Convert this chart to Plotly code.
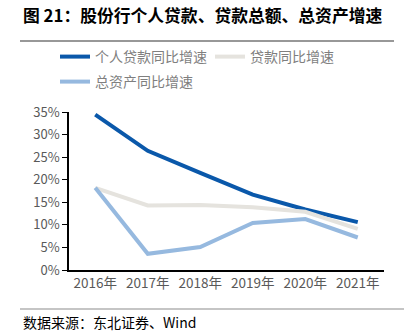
import plotly.graph_objects as go

years = ["2016年", "2017年", "2018年", "2019年", "2020年", "2021年"]
personal_loans = [34.4, 26.4, 21.5, 16.7, 13.4, 10.6]
total_loans = [18.2, 14.3, 14.4, 13.9, 12.9, 9.1]
total_assets = [18.2, 3.6, 5.1, 10.4, 11.3, 7.2]
y_ticks = [0, 5, 10, 15, 20, 25, 30, 35]
y_tick_text = [f"{v}%" for v in y_ticks]

W, H = 408, 334
L, R, T, B = 69, 24, 112, 64
pw, ph = W - L - R, H - T - B

def px(x):
    return (x - L) / pw

def py(y):
    return (H - B - y) / ph

SANS = "Noto Sans CJK SC, Noto Sans, sans-serif"

fig = go.Figure()
fig.add_trace(go.Scatter(x=years, y=personal_loans, mode="lines", name="个人贷款同比增速",
                         line=dict(color="#0A58AA", width=4), legend="legend"))
fig.add_trace(go.Scatter(x=years, y=total_loans, mode="lines", name="贷款同比增速",
                         line=dict(color="#E5E3DE", width=4), legend="legend"))
fig.add_trace(go.Scatter(x=years, y=total_assets, mode="lines", name="总资产同比增速",
                         line=dict(color="#96B9DF", width=4), legend="legend2"))

fig.update_layout(
    width=W, height=H,
    margin=dict(l=L, r=R, t=T, b=B, autoexpand=False),
    paper_bgcolor="white", plot_bgcolor="white",
    font=dict(family=SANS, color="#595959", size=13),
    legend=dict(orientation="h", xref="container", yref="container",
                x=55 / W, y=1 - 41 / H, xanchor="left", yanchor="top",
                entrywidth=110, entrywidthmode="pixels",
                font=dict(size=14, color="#7F7F7F"), bgcolor="rgba(0,0,0,0)",
                itemwidth=30, tracegroupgap=0),
    legend2=dict(orientation="h", xref="container", yref="container",
                 x=55 / W, y=1 - 66 / H, xanchor="left", yanchor="top",
                 font=dict(size=14, color="#7F7F7F"), bgcolor="rgba(0,0,0,0)",
                 itemwidth=30),
    xaxis=dict(type="category", showline=True, linecolor="black", linewidth=1.5,
               ticks="", showgrid=False, tickfont=dict(size=13.5, color="#595959"),
               range=[-0.5, 5.5]),
    yaxis=dict(range=[0, 35], tickvals=y_ticks, ticktext=y_tick_text, showline=True,
               linecolor="black", linewidth=1.5, ticks="outside", ticklen=5,
               tickcolor="black", showgrid=False, zeroline=False,
               tickfont=dict(size=13, color="#595959")),
    shapes=[
        dict(type="line", xref="paper", yref="paper", x0=px(20), x1=px(394),
             y0=py(41), y1=py(41), layer="above", line=dict(color="#333333", width=1.2)),
        dict(type="line", xref="paper", yref="paper", x0=px(20), x1=px(404),
             y0=py(309), y1=py(309), layer="above", line=dict(color="#8C8C8C", width=1.2)),
    ],
)

fig.add_annotation(text="<b>图 21：股份行个人贷款、贷款总额、总资产增速</b>",
                   xref="paper", yref="paper", x=px(21), y=py(15),
                   xanchor="left", yanchor="middle", showarrow=False,
                   font=dict(size=16.8, color="black", family=SANS))
fig.add_annotation(text="数据来源：东北证券、Wind",
                   xref="paper", yref="paper", x=px(21), y=py(322),
                   xanchor="left", yanchor="middle", showarrow=False,
                   font=dict(size=14, color="black", family=SANS))

fig.write_html("out.html")
